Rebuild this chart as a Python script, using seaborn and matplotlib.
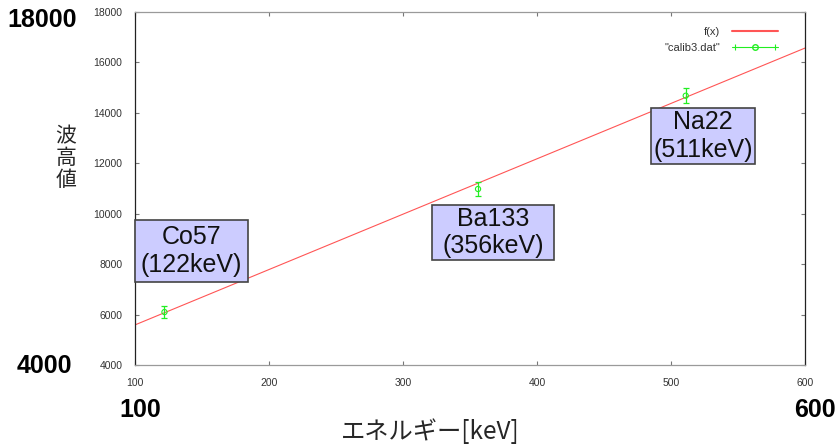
import matplotlib
matplotlib.use("Agg")
import matplotlib.pyplot as plt
from matplotlib.lines import Line2D
from matplotlib.patches import Rectangle
from matplotlib.legend_handler import HandlerTuple, HandlerLine2D
import seaborn as sns
import pandas as pd

# calibration measurements: source energy vs pulse height
energy_kev = [122, 356, 511]
pulse_height = [6100, 10980, 14680]
pulse_err = [250, 280, 300]
sources = ["Co57\n(122keV)", "Ba133\n(356keV)", "Na22\n(511keV)"]

# fitted line f(x), evaluated at the ends of the range
fit_x = [100, 600]
fit_y = [5590, 16570]

# label boxes (data coordinates): x0, x1, y0, y1
box_x0 = [100, 322, 485]
box_x1 = [184, 413, 563]
box_y0 = [7290, 8160, 11970]
box_y1 = [9750, 10350, 14190]

x_ticks = [100, 200, 300, 400, 500, 600]
y_ticks = [4000, 6000, 8000, 10000, 12000, 14000, 16000, 18000]

sns.set_theme(style="white")
plt.rcParams["font.family"] = ["Liberation Sans", "DejaVu Sans"]

RED = "#ff5555"
GREEN = "#22ee22"

fig = plt.figure(figsize=(8.39, 4.48), dpi=100)
ax = fig.add_axes([135 / 839, 1 - 365 / 448, 670 / 839, 353 / 448])

fit_df = pd.DataFrame({"x": fit_x, "y": fit_y})
sns.lineplot(data=fit_df, x="x", y="y", ax=ax, color=RED, lw=0.8, label="f(x)",
             legend=False)

ax.errorbar(energy_kev, pulse_height, yerr=pulse_err, fmt="none", ecolor=GREEN,
            elinewidth=0.9, capsize=2.5, capthick=0.9, zorder=3)
pts_df = pd.DataFrame({"x": energy_kev, "y": pulse_height})
sns.scatterplot(data=pts_df, x="x", y="y", ax=ax, marker="o", s=14,
                facecolors="none", edgecolor=GREEN, linewidth=0.8, zorder=4)

ax.set_xlim(100, 600)
ax.set_ylim(4000, 18000)
ax.set_xticks(x_ticks)
ax.set_yticks(y_ticks)
ax.set_xlabel("")
ax.set_ylabel("")
ax.tick_params(direction="in", length=3, width=0.8, color="#777777",
               labelsize=7.5, labelcolor="#333333", pad=9,
               top=True, right=True, bottom=True, left=True)
for side in ("left", "right"):
    ax.spines[side].set_color("#222222")
    ax.spines[side].set_linewidth(0.9)
for side in ("top", "bottom"):
    ax.spines[side].set_color("#9a9a9a")
    ax.spines[side].set_linewidth(0.9)

# source label boxes
for x0, x1, y0, y1, name in zip(box_x0, box_x1, box_y0, box_y1, sources):
    ax.add_patch(Rectangle((x0, y0), x1 - x0, y1 - y0, facecolor="#ccccff",
                           edgecolor="#444444", lw=1.2, zorder=5, clip_on=False))
    ax.text((x0 + x1) / 2, (y0 + y1) / 2, name, ha="center", va="center",
            fontsize=18, linespacing=1.2, color="#111111", zorder=6)

# legend in gnuplot style: text on the left, sample on the right
h_fit = Line2D([], [], color=RED, lw=1.5)
h_line = Line2D([], [], color=GREEN, lw=0.8, marker="o", mfc="none",
                mec=GREEN, ms=4)
h_caps = Line2D([], [], color=GREEN, ls="none", marker="|", ms=5, mew=0.8)
leg = ax.legend([h_fit, (h_line, h_caps)], ["f(x)", '"calib3.dat"'],
                handler_map={tuple: HandlerTuple(ndivide=1),
                             h_caps: HandlerLine2D(numpoints=2)},
                loc="upper right", bbox_to_anchor=(0.975, 0.985),
                frameon=False, markerfirst=False, fontsize=8,
                handlelength=4.2, handletextpad=1.0, labelspacing=0.5)
for t in leg.get_texts():
    t.set_color("#333333")

# large axis-range annotations
big = dict(fontsize=18, fontweight="bold", color="black")
fig.text(42 / 839, 1 - 20 / 448, "18000", ha="center", va="center", **big)
fig.text(44 / 839, 1 - 366 / 448, "4000", ha="center", va="center", **big)
fig.text(140 / 839, 1 - 410 / 448, "100", ha="center", va="center", **big)
fig.text(815 / 839, 1 - 410 / 448, "600", ha="center", va="center", **big)

jp = ["Noto Sans CJK JP", "DejaVu Sans"]
fig.text(66 / 839, 1 - 158 / 448, "波\n高\n値", ha="center", va="center",
         fontsize=15, family=jp, linespacing=1.0)
fig.text(430 / 839, 1 - 432 / 448, "エネルギー[keV]", ha="center", va="center",
         fontsize=17.5, family=jp)

fig.savefig("out.png", dpi=100)
